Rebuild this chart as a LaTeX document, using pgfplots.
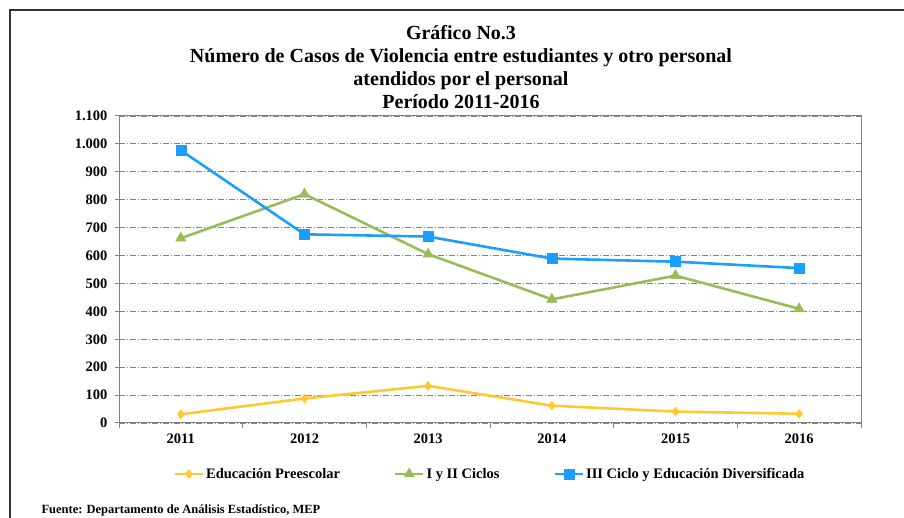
\documentclass[border=0pt]{standalone}
\usepackage{pgfplots}
\pgfplotsset{compat=1.18}
\usepackage{fontspec}
\setmainfont{Liberation Serif}

\definecolor{cpre}{RGB}{255,200,50}
\definecolor{cciclo}{RGB}{155,187,89}
\definecolor{cdiv}{RGB}{28,158,255}
\definecolor{cgrid}{RGB}{130,130,130}

\begin{document}
\begin{tikzpicture}
  \useasboundingbox (0pt,0pt) rectangle (904pt,518pt);
  % marco exterior
  \draw[line width=1.2pt, black!80] (10pt,0pt) -- (10pt,508pt) -- (904pt,508pt);

  % titulo
  \node[font=\bfseries\fontsize{20}{23}\selectfont, align=center, anchor=center]
    at (461pt,451pt) {Gráfico No.3\\Número de Casos de Violencia entre estudiantes y otro personal\\atendidos por el personal\\Período 2011-2016};

  \begin{axis}[
      at={(119pt,95pt)}, anchor=south west,
      scale only axis,
      width=742pt, height=307pt,
      xmin=-0.5, xmax=5.5,
      ymin=0, ymax=1100,
      xtick={0,1,2,3,4,5},
      xticklabels={2011,2012,2013,2014,2015,2016},
      major x tick style={draw=none},
      minor xtick={-0.5,0.5,1.5,2.5,3.5,4.5,5.5},
      minor tick length=5pt,
      ytick={0,100,...,1100},
      major tick length=4pt,
      tick align=outside,
      tick pos=left,
      scaled y ticks=false,
      /pgf/number format/.cd, 1000 sep={.}, assume math mode=true,
      /pgfplots/.cd,
      ymajorgrids,
      grid style={cgrid, line width=0.9pt, dash pattern=on 6pt off 2pt on 1pt off 2pt},
      axis line style={cgrid, line width=1pt},
      every tick/.style={cgrid, line width=1pt},
      ticklabel style={font=\bfseries\fontsize{14.5}{15}\selectfont, black},
      xticklabel style={yshift=-3pt},
      yticklabel style={xshift=-4pt},
      legend columns=3,
      legend style={at={(0.5,-0.166)}, anchor=center, draw=none,
        font=\bfseries\fontsize{14.5}{15}\selectfont,
        /tikz/every even column/.append style={column sep=52pt},
        inner sep=0pt},
      legend cell align=left,
      legend image code/.code={%
        \draw[mark repeat=2, mark phase=2] plot coordinates {(0pt,0pt) (14pt,0pt) (28pt,0pt)};},
    ]
    \addplot[cpre, line width=2.6pt, mark=diamond*, mark size=4.5pt,
      mark options={solid, fill=cpre, line width=0.5pt}]
      coordinates {(0,31) (1,88) (2,133) (3,62) (4,41) (5,33)};
    \addlegendentry{Educación Preescolar}
    \addplot[cciclo, line width=2.6pt, mark=triangle*, mark size=6pt,
      mark options={solid, fill=cciclo, line width=0.5pt}]
      coordinates {(0,662) (1,820) (2,605) (3,443) (4,528) (5,409)};
    \addlegendentry{I y II Ciclos}
    \addplot[cdiv, line width=2.6pt, mark=square*, mark size=5pt,
      mark options={solid, fill=cdiv, line width=0.5pt}]
      coordinates {(0,977) (1,676) (2,668) (3,589) (4,578) (5,555)};
    \addlegendentry{III Ciclo y Educación Diversificada}
  \end{axis}

  % fuente
  \node[font=\bfseries\fontsize{12.5}{13}\selectfont, anchor=base west]
    at (38pt,4pt) {Fuente: Departamento de Análisis Estadístico, MEP};
\end{tikzpicture}
\end{document}
